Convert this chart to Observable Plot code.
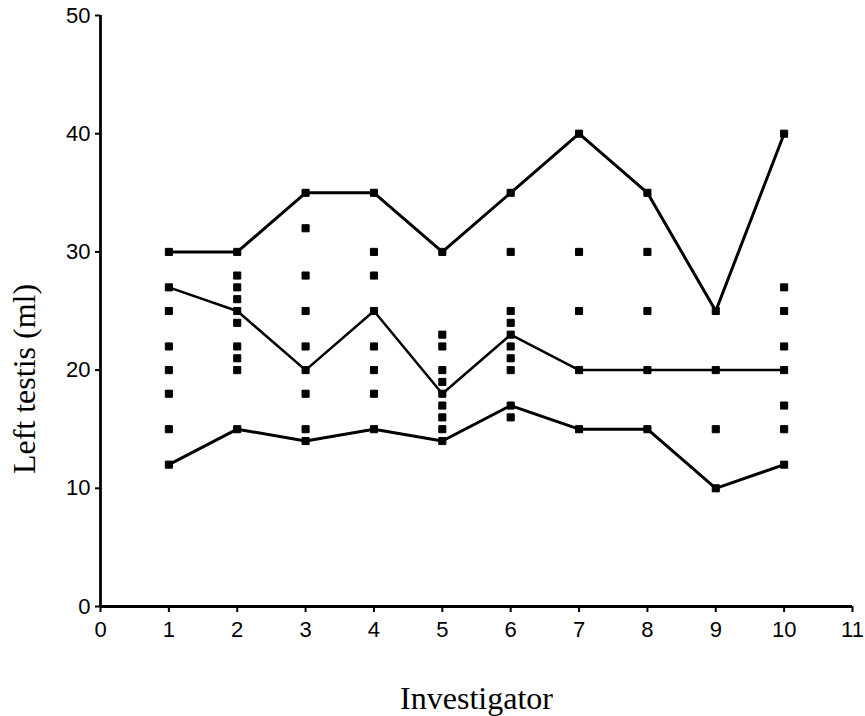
<!DOCTYPE html>
<html>
<head>
<meta charset="utf-8">
<script src="https://cdn.jsdelivr.net/npm/d3@7"></script>
<script src="https://cdn.jsdelivr.net/npm/@observablehq/plot@0.6"></script>
<style>
  html, body { margin: 0; padding: 0; background: #fff; }
</style>
</head>
<body>
<div id="chart"></div>
<script>
const investigators = [1, 2, 3, 4, 5, 6, 7, 8, 9, 10];
const maxVals    = [30, 30, 35, 35, 30, 35, 40, 35, 25, 40];
const medianVals = [27, 25, 20, 25, 18, 23, 20, 20, 20, 20];
const minVals    = [12, 15, 14, 15, 14, 17, 15, 15, 10, 12];
const observations = [
  [30, 27, 25, 22, 20, 18, 15, 12],
  [30, 28, 27, 26, 25, 24, 22, 21, 20, 15],
  [35, 32, 28, 25, 22, 20, 18, 15, 14],
  [35, 30, 28, 25, 22, 20, 18, 15],
  [30, 23, 22, 20, 19, 18, 17, 16, 15, 14],
  [35, 30, 25, 24, 23, 22, 21, 20, 17, 16],
  [40, 30, 25, 20, 15],
  [35, 30, 25, 20, 15],
  [25, 20, 15, 10],
  [40, 27, 25, 22, 20, 17, 15, 12]
];
const xTicks = [0, 1, 2, 3, 4, 5, 6, 7, 8, 9, 10, 11];
const yTicks = [0, 10, 20, 30, 40, 50];

const points = investigators.flatMap((inv, i) => observations[i].map(v => ({inv, v})));
const lineData = (vals) => investigators.map((inv, i) => ({inv, v: vals[i]}));

const sans = "Liberation Sans, Arial, Helvetica, sans-serif";
const serif = "Liberation Serif, Times New Roman, serif";

const chart = Plot.plot({
  width: 865,
  height: 716,
  marginLeft: 100,
  marginRight: 13,
  marginTop: 15,
  marginBottom: 110,
  style: {background: "#fff", color: "#000", fontSize: "22px", fontFamily: sans},
  x: {domain: [0, 11]},
  y: {domain: [0, 50]},
  marks: [
    Plot.axisX({ticks: xTicks, tickSize: 6, tickPadding: 9, fontSize: 22, label: null, strokeWidth: 2}),
    Plot.axisY({ticks: yTicks, tickSize: 5, tickPadding: 5, fontSize: 22, label: null, strokeWidth: 2}),
    Plot.ruleX([0], {stroke: "#000", strokeWidth: 2.8}),
    Plot.ruleY([0], {stroke: "#000", strokeWidth: 2.8}),
    Plot.line(lineData(maxVals), {x: "inv", y: "v", stroke: "#000", strokeWidth: 3}),
    Plot.line(lineData(medianVals), {x: "inv", y: "v", stroke: "#000", strokeWidth: 2.5}),
    Plot.line(lineData(minVals), {x: "inv", y: "v", stroke: "#000", strokeWidth: 3}),
    Plot.dot(points, {x: "inv", y: "v", symbol: "square", r: 4, fill: "#000", stroke: "#000", strokeWidth: 1, strokeLinejoin: "round"}),
    Plot.text(["Left testis (ml)"], {frameAnchor: "left", textAnchor: "middle", lineAnchor: "middle", rotate: -90, dx: -76, dy: 68, fontSize: 32, fontFamily: serif, fill: "#000"}),
    Plot.text(["Investigator"], {frameAnchor: "bottom", textAnchor: "middle", lineAnchor: "middle", dy: 92, fontSize: 32, fontFamily: serif, fill: "#000"})
  ]
});
document.getElementById("chart").appendChild(chart);
</script>
</body>
</html>
